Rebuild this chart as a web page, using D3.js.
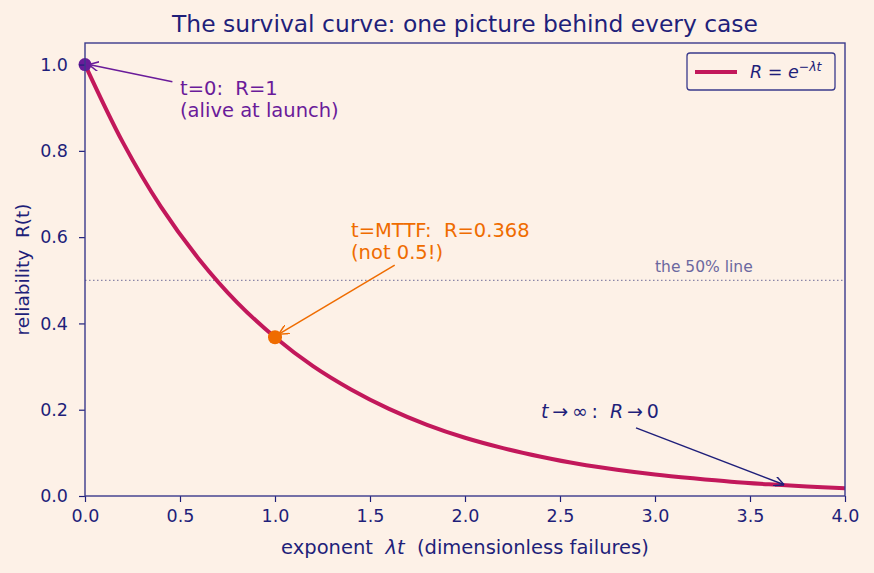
<!DOCTYPE html>
<html>
<head>
<meta charset="utf-8">
<script src="https://cdn.jsdelivr.net/npm/d3@7"></script>
<style>
  body { margin: 0; background: #fdf1e7; }
  svg { font-family: "DejaVu Sans", sans-serif; }
  svg text { white-space: pre; }
</style>
</head>
<body>
<script>
// values, step 0.2 in lambda*t
var lamT = [0, 0.2, 0.4, 0.6, 0.8, 1.0, 1.2, 1.4, 1.6, 1.8, 2.0, 2.2, 2.4, 2.6, 2.8, 3.0, 3.2, 3.4, 3.6, 3.8, 4.0];
var relVals = [1.0, 0.819, 0.670, 0.549, 0.449, 0.368, 0.301, 0.247, 0.202, 0.165, 0.135, 0.111, 0.091, 0.074, 0.061, 0.050, 0.041, 0.033, 0.027, 0.022, 0.018];
var xTicks = [0, 0.5, 1, 1.5, 2, 2.5, 3, 3.5, 4];
var yTicks = [0, 0.2, 0.4, 0.6, 0.8, 1.0];

var W = 874, H = 573;
var margin = {top: 43, right: 29, bottom: 77, left: 85};
var navy = "#1f1f7a";

var svg = d3.select("body").append("svg")
    .attr("width", W)
    .attr("height", H);

svg.append("rect").attr("width", W).attr("height", H).attr("fill", "#fdf1e7");

var x = d3.scaleLinear().domain([0, 4]).range([margin.left, W - margin.right]);
var y = d3.scaleLinear().domain([0, 1.05]).range([H - margin.bottom, margin.top]);

// title
svg.append("text")
    .attr("x", (margin.left + W - margin.right) / 2)
    .attr("y", 32)
    .attr("text-anchor", "middle")
    .attr("font-size", 23.4)
    .attr("fill", navy)
    .text("The survival curve: one picture behind every case");

// 50% line
svg.append("line")
    .attr("x1", x(0)).attr("x2", x(4))
    .attr("y1", y(0.5)).attr("y2", y(0.5))
    .attr("stroke", "#8a86a8")
    .attr("stroke-width", 1.3)
    .attr("stroke-dasharray", "1.5,2.5");
svg.append("text")
    .attr("x", x(3.0)).attr("y", y(0.5) - 8)
    .attr("font-size", 15.5)
    .attr("fill", "#6b68a0")
    .text("the 50% line");

// curve
var line = d3.line()
    .x(function(d, i) { return x(lamT[i]); })
    .y(function(d) { return y(d); })
    .curve(d3.curveCatmullRom);

svg.append("path")
    .datum(relVals)
    .attr("d", line)
    .attr("fill", "none")
    .attr("stroke", "#c2185b")
    .attr("stroke-width", 4);

// arrow markers
function marker(id, col) {
  svg.append("defs").append("marker")
    .attr("id", id)
    .attr("viewBox", "0 0 10 10")
    .attr("refX", 10).attr("refY", 5)
    .attr("markerWidth", 10).attr("markerHeight", 10)
    .attr("markerUnits", "userSpaceOnUse")
    .attr("orient", "auto")
    .append("path")
    .attr("d", "M0,0 L10,5 L0,10")
    .attr("fill", "none")
    .attr("stroke", col)
    .attr("stroke-width", 1.5);
}
marker("arrP", "#6a1b9a");
marker("arrO", "#ef6c00");
marker("arrN", navy);

// annotations
var purple = "#6a1b9a", orange = "#ef6c00";

svg.append("line")
    .attr("x1", x(0.46)).attr("y1", y(0.96))
    .attr("x2", x(0.02)).attr("y2", y(1.0))
    .attr("stroke", purple).attr("stroke-width", 1.5)
    .attr("marker-end", "url(#arrP)");
svg.append("circle")
    .attr("cx", x(0)).attr("cy", y(1.0)).attr("r", 6.5)
    .attr("fill", purple);
var t0 = svg.append("text").attr("font-size", 19.5).attr("fill", purple);
t0.append("tspan").attr("x", x(0.5)).attr("y", y(0.93)).text("t=0:  R=1");
t0.append("tspan").attr("x", x(0.5)).attr("y", y(0.93) + 22).text("(alive at launch)");

svg.append("line")
    .attr("x1", x(1.63)).attr("y1", y(0.535))
    .attr("x2", x(1.02)).attr("y2", y(0.375))
    .attr("stroke", orange).attr("stroke-width", 1.5)
    .attr("marker-end", "url(#arrO)");
svg.append("circle")
    .attr("cx", x(1.0)).attr("cy", y(0.368)).attr("r", 7)
    .attr("fill", orange);
var tm = svg.append("text").attr("font-size", 19.5).attr("fill", orange);
tm.append("tspan").attr("x", x(1.4)).attr("y", y(0.6)).text("t=MTTF:  R=0.368");
tm.append("tspan").attr("x", x(1.4)).attr("y", y(0.6) + 22).text("(not 0.5!)");

svg.append("line")
    .attr("x1", x(2.9)).attr("y1", y(0.158))
    .attr("x2", x(3.68)).attr("y2", y(0.026))
    .attr("stroke", navy).attr("stroke-width", 1.5)
    .attr("marker-end", "url(#arrN)");
var ti = svg.append("text").attr("x", x(2.4)).attr("y", y(0.18))
    .attr("font-size", 19).attr("fill", navy);
ti.append("tspan").attr("font-style", "italic").text("t");
ti.append("tspan").text("\u2009\u2192\u2009\u221e\u2009:  ");
ti.append("tspan").attr("font-style", "italic").text("R");
ti.append("tspan").text("\u2009\u2192\u20090");

// axes
var xAxis = svg.append("g")
    .attr("transform", "translate(0," + y(0) + ")")
    .call(d3.axisBottom(x).tickValues(xTicks).tickFormat(d3.format(".1f"))
      .tickSize(6).tickPadding(8).tickSizeOuter(0));
var yAxis = svg.append("g")
    .attr("transform", "translate(" + x(0) + ",0)")
    .call(d3.axisLeft(y).tickValues(yTicks).tickFormat(d3.format(".1f"))
      .tickSize(6).tickPadding(11).tickSizeOuter(0));

[xAxis, yAxis].forEach(function(a) {
  a.select(".domain").remove();
  a.selectAll("line").attr("stroke", navy).attr("stroke-width", 1.2);
  a.selectAll("text").attr("fill", navy).attr("font-size", 17.5)
    .attr("font-family", "DejaVu Sans, sans-serif");
});

// frame
svg.append("rect")
    .attr("x", x(0)).attr("y", y(1.05))
    .attr("width", x(4) - x(0)).attr("height", y(0) - y(1.05))
    .attr("fill", "none")
    .attr("stroke", "#3a3a8c")
    .attr("stroke-width", 1.4);

// axis labels
var xl = svg.append("text")
    .attr("x", (x(0) + x(4)) / 2).attr("y", 554)
    .attr("text-anchor", "middle")
    .attr("font-size", 19.5).attr("fill", navy);
xl.append("tspan").text("exponent  ");
xl.append("tspan").attr("font-style", "italic").text("\u03bbt");
xl.append("tspan").text("  (dimensionless failures)");

svg.append("text")
    .attr("transform", "translate(29," + ((y(0) + y(1.05)) / 2) + ") rotate(-90)")
    .attr("text-anchor", "middle")
    .attr("font-size", 18.5).attr("fill", navy)
    .text("reliability  R(t)");

// legend
var lg = svg.append("g");
lg.append("rect")
    .attr("x", 687).attr("y", 53).attr("width", 148).attr("height", 37)
    .attr("rx", 3)
    .attr("fill", "#fdf1e7")
    .attr("stroke", "#3a3a8c").attr("stroke-width", 1.3);
lg.append("line")
    .attr("x1", 695).attr("x2", 737).attr("y1", 72).attr("y2", 72)
    .attr("stroke", "#c2185b").attr("stroke-width", 4);
var lt = lg.append("text").attr("x", 750).attr("y", 78)
    .attr("font-size", 17.5).attr("fill", navy);
lt.append("tspan").attr("font-style", "italic").text("R");
lt.append("tspan").text(" = ");
lt.append("tspan").attr("font-style", "italic").text("e");
lt.append("tspan").attr("font-size", 12.5).attr("dy", -7).attr("font-style", "italic").text("\u2212\u03bbt");
</script>
</body>
</html>
